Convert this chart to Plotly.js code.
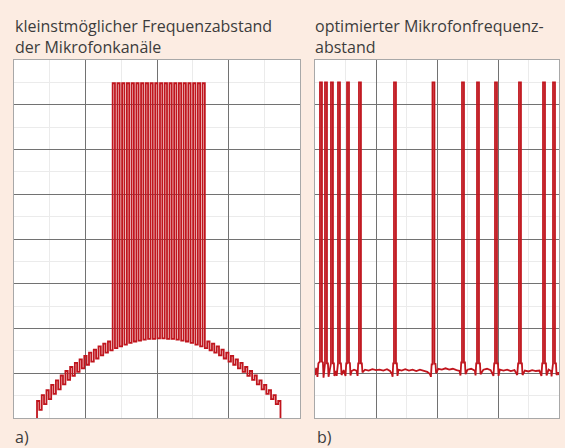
<!DOCTYPE html>
<html>
<head>
<meta charset="utf-8">
<script src="https://cdn.plot.ly/plotly-3.0.1.min.js"></script>
<style>
  html, body { margin: 0; padding: 0; background: #fcece2; }
  #chart { width: 565px; height: 448px; }
</style>
</head>
<body>
<div id="chart"></div>
<script>
// ---- Data (grid units: x 0..4 columns, y 0..8 rows) ----
// Panel a) smallest possible channel spacing: 52 equally spaced channels
const leftChannelX = [
  0.322, 0.388, 0.454, 0.520, 0.586, 0.653, 0.719, 0.785, 0.851, 0.917,
  0.983, 1.049, 1.116, 1.182, 1.248, 1.314, 1.380, 1.446, 1.512, 1.579,
  1.645, 1.711, 1.777, 1.843, 1.909, 1.975, 2.042, 2.108, 2.174, 2.240,
  2.306, 2.372, 2.438, 2.505, 2.571, 2.637, 2.703, 2.769, 2.835, 2.901,
  2.968, 3.034, 3.100, 3.166, 3.232, 3.298, 3.364, 3.431, 3.497, 3.563,
  3.629, 3.695
];
const leftBase = [
  0.18, 0.31, 0.42, 0.54, 0.64, 0.75, 0.85, 0.94, 1.03, 1.11,
  1.19, 1.26, 1.33, 1.40, 1.46, 1.51, 1.56, 1.60, 1.64, 1.68,
  1.71, 1.73, 1.75, 1.77, 1.77, 1.78, 1.78, 1.77, 1.77, 1.75,
  1.73, 1.71, 1.68, 1.64, 1.60, 1.56, 1.51, 1.46, 1.40, 1.33,
  1.26, 1.19, 1.11, 1.03, 0.94, 0.85, 0.75, 0.64, 0.54, 0.42,
  0.31, 0.18
];
const leftPeak = [
  0.38, 0.51, 0.62, 0.74, 0.84, 0.95, 1.05, 1.14, 1.23, 1.31,
  1.39, 1.46, 1.53, 1.60, 1.66, 1.71, 7.48, 7.48, 7.48, 7.48,
  7.48, 7.48, 7.48, 7.48, 7.48, 7.48, 7.48, 7.48, 7.48, 7.48,
  7.48, 7.48, 7.48, 7.48, 7.48, 7.48, 1.71, 1.66, 1.60, 1.53,
  1.46, 1.39, 1.31, 1.23, 1.14, 1.05, 0.95, 0.84, 0.74, 0.62,
  0.51, 0.38
];

// Panel b) optimised channel spacing: 14 channels over a noise floor
const rightChannelX = [
  0.082, 0.164, 0.262, 0.377, 0.525, 0.721, 1.295,
  1.926, 2.410, 2.656, 2.951, 3.344, 3.738, 3.902
];
const rightPeak = [7.5, 7.5, 7.5, 7.5, 7.5, 7.5, 7.5, 7.5, 7.5, 7.5, 7.5, 7.5, 7.5, 7.5];
const rightShoulder = [1.26, 1.22, 1.22, 1.22, 1.22, 1.22, 1.22, 1.20, 1.24, 1.22, 1.22, 1.22, 1.22, 1.22];
const floorX = [
  0.000, 0.020, 0.040, 0.055, 0.078, 0.130, 0.140, 0.152, 0.212, 0.222,
  0.240, 0.252, 0.310, 0.318, 0.340, 0.355, 0.365, 0.425, 0.435, 0.470,
  0.500, 0.512, 0.572, 0.582, 0.600, 0.640, 0.680, 0.698, 0.708, 0.768,
  0.778, 0.820, 0.880, 0.940, 1.000, 1.060, 1.120, 1.180, 1.230, 1.262,
  1.272, 1.282, 1.342, 1.352, 1.370, 1.420, 1.480, 1.540, 1.600, 1.660,
  1.720, 1.780, 1.840, 1.885, 1.900, 1.912, 1.975, 1.985, 2.020, 2.080,
  2.140, 2.200, 2.260, 2.320, 2.370, 2.385, 2.397, 2.458, 2.468, 2.500,
  2.560, 2.620, 2.632, 2.643, 2.704, 2.714, 2.760, 2.820, 2.880, 2.925,
  2.938, 2.999, 3.009, 3.030, 3.090, 3.150, 3.210, 3.270, 3.315, 3.330,
  3.392, 3.402, 3.440, 3.500, 3.560, 3.620, 3.680, 3.712, 3.725, 3.786,
  3.796, 3.830, 3.870, 3.878, 3.890, 3.950, 3.960, 3.985, 4.000
];
const floorY = [
  0.96, 1.12, 0.92, 1.22, 1.26, 1.24, 0.90, 1.20, 1.22, 0.92,
  1.08, 1.22, 1.22, 0.94, 1.05, 0.94, 1.22, 1.22, 0.96, 1.07,
  0.94, 1.22, 1.24, 0.95, 1.05, 1.08, 1.06, 0.94, 1.22, 1.22,
  1.02, 1.08, 1.06, 1.09, 1.07, 1.08, 1.06, 1.09, 1.05, 0.98,
  0.92, 1.22, 1.22, 0.94, 1.08, 1.06, 1.09, 1.06, 1.08, 1.05,
  1.08, 1.06, 1.03, 0.98, 0.92, 1.20, 1.22, 1.00, 1.10, 1.08,
  1.11, 1.08, 1.10, 1.07, 1.05, 0.95, 1.24, 1.24, 0.98, 1.08,
  1.10, 1.06, 0.95, 1.22, 1.22, 0.98, 1.08, 1.10, 1.07, 0.94,
  1.22, 1.22, 0.94, 1.08, 1.06, 1.08, 1.05, 1.07, 0.96, 1.22,
  1.22, 0.96, 1.06, 1.04, 1.07, 1.05, 1.06, 0.94, 1.22, 1.22,
  0.95, 1.08, 1.05, 0.93, 1.22, 1.22, 0.96, 1.02, 0.96
];

const titleA = "kleinstmöglicher Frequenzabstand<br>der Mikrofonkanäle";
const titleB = "optimierter Mikrofonfrequenz-<br>abstand";
const labelA = "a)";
const labelB = "b)";

// ---- Build line paths from the data ----
const spikeW = 0.032;
const lx = [leftChannelX[0]], ly = [0];
for (let i = 0; i < leftChannelX.length; i++) {
  if (i > 0) { lx.push(leftChannelX[i]); ly.push(leftBase[i - 1]); }
  lx.push(leftChannelX[i], leftChannelX[i] + spikeW, leftChannelX[i] + spikeW);
  ly.push(leftPeak[i], leftPeak[i], leftBase[i]);
}
lx.push(leftChannelX[leftChannelX.length - 1] + spikeW); ly.push(0);

const pts = [];
for (let i = 0; i < floorX.length; i++) pts.push([floorX[i], floorY[i]]);
for (let i = 0; i < rightChannelX.length; i++) {
  const c = rightChannelX[i];
  pts.push([c, rightShoulder[i]], [c, rightPeak[i]], [c + spikeW, rightPeak[i]], [c + spikeW, rightShoulder[i]]);
}
pts.sort((a, b) => a[0] - b[0]);
const rx = pts.map(p => p[0]), ry = pts.map(p => p[1]);

const red = '#c0151d';
const traces = [
  { x: lx, y: ly, xaxis: 'x', yaxis: 'y', mode: 'lines', line: { color: red, width: 1.8 }, hoverinfo: 'skip' },
  { x: rx, y: ry, xaxis: 'x2', yaxis: 'y2', mode: 'lines', line: { color: red, width: 1.8 }, hoverinfo: 'skip' }
];

function ax(domain, range, anchor) {
  return {
    domain: domain, range: range, anchor: anchor, tick0: 0, dtick: 1,
    showgrid: true, gridcolor: '#727272', gridwidth: 1,
    minor: { dtick: 0.5, showgrid: true, gridcolor: '#ebebeb', gridwidth: 1 },
    showline: true, linecolor: '#a8a8a8', linewidth: 1, mirror: true,
    showticklabels: false, ticks: '', zeroline: false, fixedrange: true
  };
}
const yDom = [30 / 448, 388 / 448];
const font = { family: '"Open Sans", "Noto Sans", sans-serif', size: 16, color: '#3c3c3c' };

const layout = {
  width: 565, height: 448,
  margin: { l: 0, r: 0, t: 0, b: 0 },
  paper_bgcolor: '#fcece2', plot_bgcolor: '#ffffff',
  showlegend: false,
  xaxis: ax([14 / 565, 300 / 565], [0, 4], 'y'),
  yaxis: ax(yDom, [0, 8], 'x'),
  xaxis2: ax([315 / 565, 559 / 565], [0, 4], 'y2'),
  yaxis2: ax(yDom, [0, 8], 'x2'),
  annotations: [
    { text: titleA, xref: 'paper', yref: 'paper', x: 13 / 565, y: 1 - 13 / 448, xanchor: 'left', yanchor: 'top', align: 'left', showarrow: false, font: font },
    { text: titleB, xref: 'paper', yref: 'paper', x: 313 / 565, y: 1 - 13 / 448, xanchor: 'left', yanchor: 'top', align: 'left', showarrow: false, font: font },
    { text: labelA, xref: 'paper', yref: 'paper', x: 13 / 565, y: 1 - 437 / 448, xanchor: 'left', yanchor: 'middle', showarrow: false, font: font },
    { text: labelB, xref: 'paper', yref: 'paper', x: 315 / 565, y: 1 - 437 / 448, xanchor: 'left', yanchor: 'middle', showarrow: false, font: font }
  ]
};

Plotly.newPlot('chart', traces, layout, { displayModeBar: false, staticPlot: true });
</script>
</body>
</html>
